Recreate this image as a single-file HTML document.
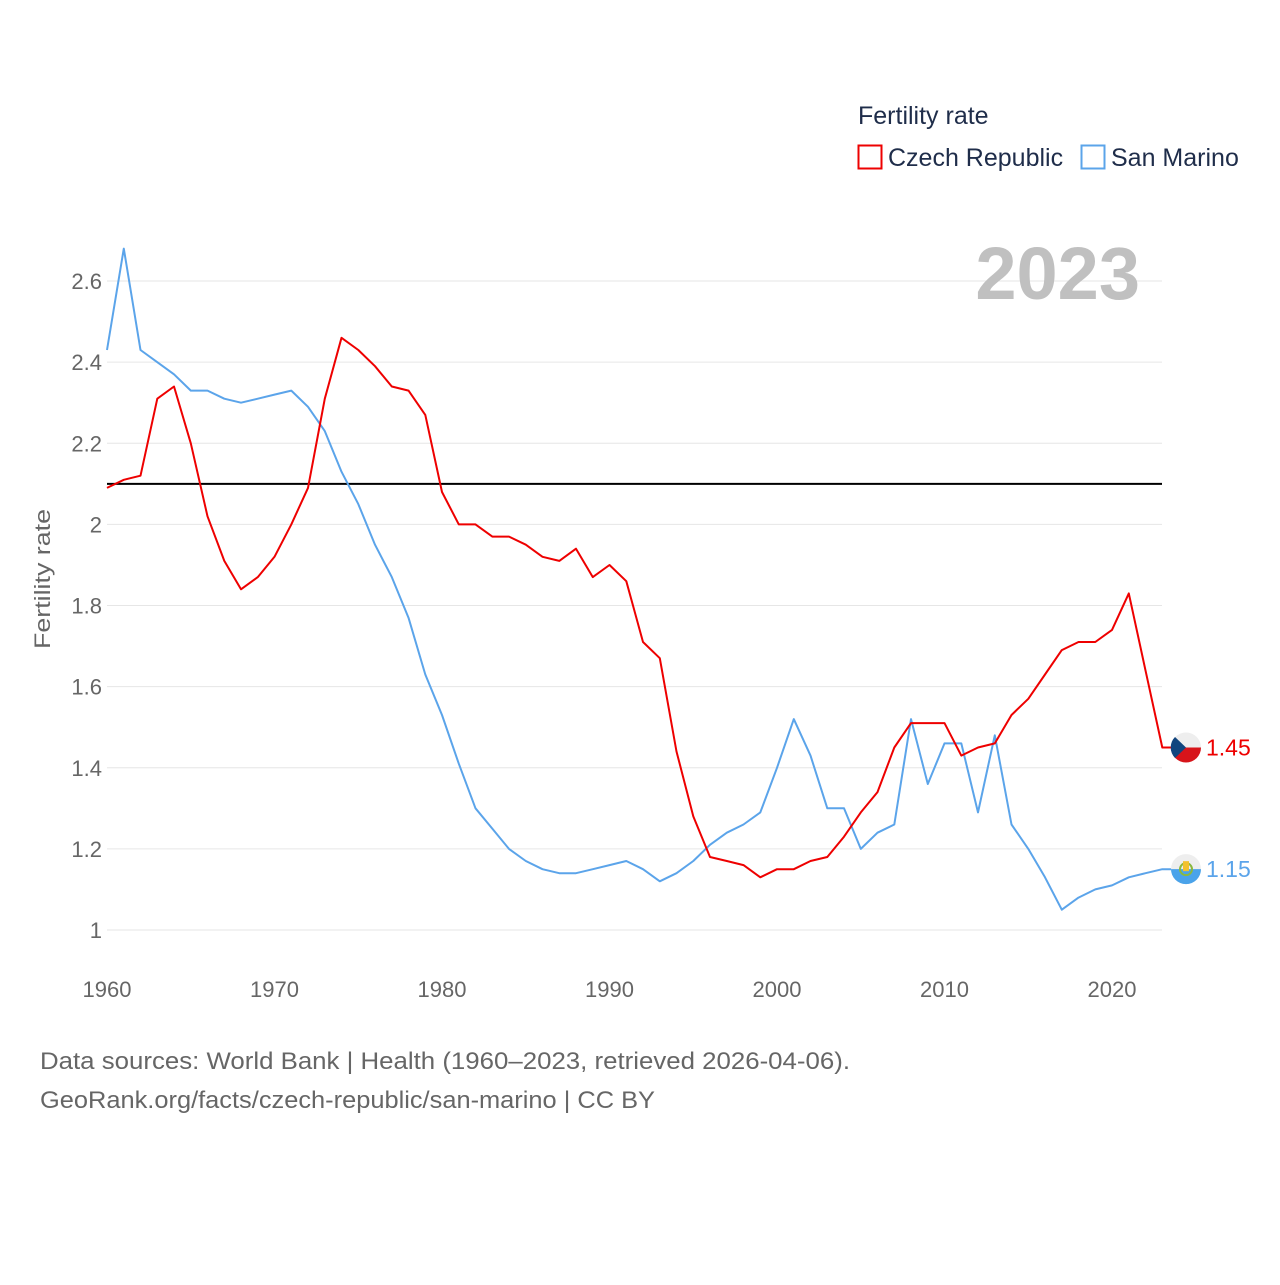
<!DOCTYPE html>
<html><head><meta charset="utf-8">
<style>
body{margin:0;background:#fff;width:1280px;height:1280px;overflow:hidden;font-family:"Liberation Sans",sans-serif}
svg text{font-family:"Liberation Sans",sans-serif}
</style></head>
<body>
<svg id="chart" width="1280" height="1280" xmlns="http://www.w3.org/2000/svg">
<g id="grid"></g>
<g id="yticks"></g>
<g id="xticks"></g>
<text x="1140" y="299" text-anchor="end" font-size="74" font-weight="bold" fill="#c0c0c0">2023</text>
<text transform="translate(50,579) rotate(-90)" text-anchor="middle" font-size="22" fill="#666" textLength="140" lengthAdjust="spacingAndGlyphs">Fertility rate</text>
<g id="series"></g>
<g>
<text x="858" y="124" font-size="25" fill="#1f2d4a">Fertility rate</text>
<rect x="858.5" y="145.5" width="23" height="23" fill="none" stroke="#ee0000" stroke-width="2"/>
<text x="888" y="166" font-size="25" fill="#1f2d4a">Czech Republic</text>
<rect x="1081.5" y="145.5" width="23" height="23" fill="none" stroke="#5ba4ea" stroke-width="2"/>
<text x="1111" y="166" font-size="25" fill="#1f2d4a">San Marino</text>
</g>
<text x="40" y="1069" font-size="24" fill="#666" textLength="810" lengthAdjust="spacingAndGlyphs">Data sources: World Bank | Health (1960–2023, retrieved 2026-04-06).</text>
<text x="40" y="1108" font-size="24" fill="#666" textLength="615" lengthAdjust="spacingAndGlyphs">GeoRank.org/facts/czech-republic/san-marino | CC BY</text>
</svg>
<script>
const years=[];for(let y=1960;y<=2023;y++)years.push(y);
const czech=[2.09,2.11,2.12,2.31,2.34,2.20,2.02,1.91,1.84,1.87,1.92,2.00,2.09,2.31,2.46,2.43,2.39,2.34,2.33,2.27,2.08,2.00,2.00,1.97,1.97,1.95,1.92,1.91,1.94,1.87,1.90,1.86,1.71,1.67,1.44,1.28,1.18,1.17,1.16,1.13,1.15,1.15,1.17,1.18,1.23,1.29,1.34,1.45,1.51,1.51,1.51,1.43,1.45,1.46,1.53,1.57,1.63,1.69,1.71,1.71,1.74,1.83,1.64,1.45];
const sanMarino=[2.43,2.68,2.43,2.40,2.37,2.33,2.33,2.31,2.30,2.31,2.32,2.33,2.29,2.23,2.13,2.05,1.95,1.87,1.77,1.63,1.53,1.41,1.30,1.25,1.20,1.17,1.15,1.14,1.14,1.15,1.16,1.17,1.15,1.12,1.14,1.17,1.21,1.24,1.26,1.29,1.40,1.52,1.43,1.30,1.30,1.20,1.24,1.26,1.52,1.36,1.46,1.46,1.29,1.48,1.26,1.20,1.13,1.05,1.08,1.10,1.11,1.13,1.14,1.15];
const yTicks=[1,1.2,1.4,1.6,1.8,2,2.2,2.4,2.6];
const yTickLabels=["1","1.2","1.4","1.6","1.8","2","2.2","2.4","2.6"];
const xTicks=[1960,1970,1980,1990,2000,2010,2020];
const refValue=2.1;
const NS="http://www.w3.org/2000/svg";
const X=y=>107+(y-1960)*16.75;
const Y=v=>930-(v-1)*405.6;
function mk(tag,attrs,parent){const e=document.createElementNS(NS,tag);for(const k in attrs)e.setAttribute(k,attrs[k]);parent.appendChild(e);return e;}
const grid=document.getElementById('grid'),yt=document.getElementById('yticks'),xt=document.getElementById('xticks'),ser=document.getElementById('series');
yTicks.forEach((v,i)=>{
 const l=mk('line',{x1:107,x2:1162,y1:Y(v),y2:Y(v),stroke:'#e6e6e6','stroke-width':1},grid);
 
 
 const t=mk('text',{x:102,y:Y(v)+8,'text-anchor':'end','font-size':22,fill:'#666'},yt);
 t.textContent=yTickLabels[i];
 
 
});
xTicks.forEach(v=>{
 const t=mk('text',{x:X(v),y:997,'text-anchor':'middle','font-size':22,fill:'#666'},xt);
 t.textContent=v;
 
 
});
const ref=mk('line',{x1:107,x2:1162,y1:Y(refValue),y2:Y(refValue),stroke:'#000','stroke-width':2},ser);


function line(data,color,name){
 const d=data.map((v,i)=>(i?'L':'M')+X(years[i]).toFixed(1)+','+Y(v).toFixed(1)).join(' ')+' L'+(X(2023)+10)+','+Y(data[data.length-1]).toFixed(1);
 const p=mk('path',{d,fill:'none',stroke:color,'stroke-width':2,'stroke-linejoin':'round'},ser);
 
 
}
line(sanMarino,'#5ba4ea','san-marino-line');
line(czech,'#ee0000','czech-line');
function badge(data,color,name,kind){
 const v=data[data.length-1],cx=1186,cy=Y(v);
 const g=mk('g',{},ser);
 
 
 mk('circle',{cx,cy,r:15,fill:'#eeeeee'},g);
 if(kind==='cz'){
  mk('path',{d:`M${cx-15},${cy} A15,15 0 0 0 ${cx+15},${cy} Z`,fill:'#d7141a'},g);
  mk('path',{d:`M${cx-11},${cy-10.5} L${cx},${cy} L${cx-11},${cy+10.5} A15,15 0 0 1 ${cx-11},${cy-10.5} Z`,fill:'#11457e'},g);
 }else{
  mk('path',{d:`M${cx-15},${cy} A15,15 0 0 0 ${cx+15},${cy} Z`,fill:'#4aa3ea'},g);
  mk('circle',{cx,cy,r:6,fill:'none',stroke:'#8bb83f','stroke-width':2},g);
  mk('rect',{x:cx-3,y:cy-8,width:6,height:10,fill:'#f2c12e'},g);
 }
 const t=mk('text',{x:1206,y:cy+8,'font-size':23,fill:color},ser);
 t.textContent=v.toFixed(2);
 
 
}
badge(czech,'#ee0000','czech','cz');
badge(sanMarino,'#5ba4ea','san-marino','sm');
</script>
</body></html>
